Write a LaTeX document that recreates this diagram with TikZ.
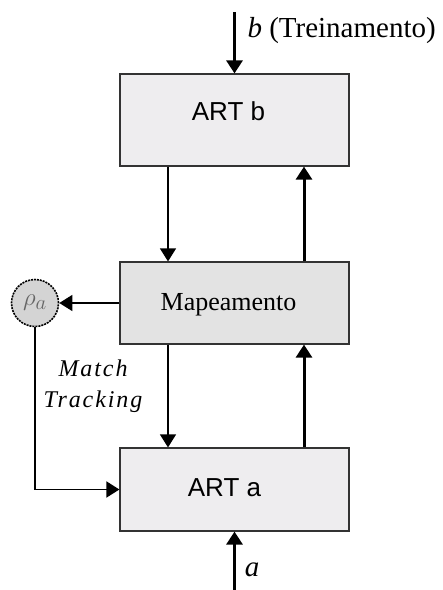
\documentclass[tikz,border=0pt]{standalone}
\usepackage{fontspec}
\setmainfont{Liberation Serif}
\newfontfamily\artfont{Liberation Sans}
\usetikzlibrary{arrows.meta}
\definecolor{boxgray}{HTML}{EEEDEF}
\definecolor{mapgray}{HTML}{E3E3E3}
\definecolor{rhogray}{HTML}{D4D4D4}
\tikzset{
  artbox/.style={draw=black!80, line width=1.2pt, fill=boxgray, inner sep=0pt,
    minimum width=229pt, minimum height=83pt},
  thinflow/.style={line width=1.2pt, -{Triangle[width=16pt,length=13pt]}},
  thickflow/.style={line width=3pt, -{Triangle[width=16pt,length=13pt]}},
}
\begin{document}
\begin{tikzpicture}[x=1pt,y=-1pt]
\useasboundingbox (0,0) rectangle (443,590);
% blocos
\node (artb) [artbox, minimum height=92pt,
  label={[xshift=-6pt,yshift=9pt,font=\artfont\fontsize{26}{30}\selectfont]center:ART b}] at (234.5,120) {};
\node (mapa) [artbox, fill=mapgray, minimum height=82pt,
  label={[xshift=-6pt,yshift=-2pt,font=\fontsize{26}{30}\selectfont]center:Mapeamento}] at (234.5,303) {};
\node (arta) [artbox,
  label={[xshift=-10pt,yshift=2pt,font=\artfont\fontsize{26}{30}\selectfont]center:ART a}] at (234.5,489.5) {};
\node (rho) [circle, draw, dash pattern=on 2pt off 1pt, line width=1.6pt, fill=rhogray,
  minimum size=47pt, inner sep=0pt, text=black!60, font=\fontsize{32}{34}\selectfont] at (35,303) {$\rho_a$};
% entradas
\coordinate (bin) at (234.5,12);
\coordinate (ain) at (234.5,590);
\draw [thickflow] (bin) -- (artb.north);
\draw [thickflow] (ain) -- (arta.south);
\node [anchor=west, font=\fontsize{29}{34}\selectfont] at (244,31) {\textit{b} (Treinamento)};
\node [font=\fontsize{29}{34}\selectfont] at (252,570) {\textit{a}};
% ligacoes
\draw [thinflow] ([xshift=-66.5pt]artb.south) -- ([xshift=-66.5pt]mapa.north);
\draw [thickflow] ([xshift=69.5pt]mapa.north) -- ([xshift=69.5pt]artb.south);
\draw [thinflow] ([xshift=-66.5pt]mapa.south) -- ([xshift=-66.5pt]arta.north);
\draw [thickflow] ([xshift=69.5pt]arta.north) -- ([xshift=69.5pt]mapa.south);
\draw [thinflow] (mapa.west) -- (rho.east);
\draw [thinflow, line width=1.8pt] (rho.south) |- (arta.west);
\node [align=center, font=\itshape\addfontfeatures{LetterSpace=8}\fontsize{24}{31}\selectfont] at (93,386) {Match\\Tracking};
\end{tikzpicture}
\end{document}
